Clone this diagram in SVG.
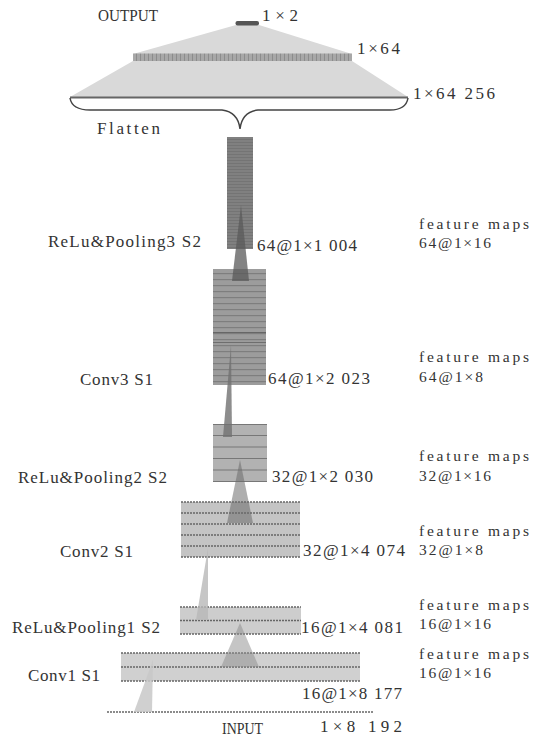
<svg xmlns="http://www.w3.org/2000/svg" width="543" height="739" viewBox="0 0 543 739">
<defs>
<style>
text{font-family:"Liberation Serif","DejaVu Serif",serif;font-size:17px;fill:#333;}
.fm{font-size:15.5px;}
.dash{stroke:#666;stroke-width:1.5;stroke-dasharray:2 1;}
.solid{stroke:#777;stroke-width:1.2;}
.wedge{stroke:none;}
</style>
<pattern id="p3" x="0" y="137" width="26" height="3" patternUnits="userSpaceOnUse">
<rect width="26" height="3" fill="#808080"/><rect y="2" width="26" height="1" fill="#747474"/>
</pattern>
<pattern id="c3" x="0" y="269" width="53" height="6" patternUnits="userSpaceOnUse">
<rect width="53" height="6" fill="#9c9c9c"/><rect y="4" width="53" height="1.2" fill="#7e7e7e"/>
</pattern>
<pattern id="fc" x="133" y="0" width="4" height="8" patternUnits="userSpaceOnUse">
<rect width="4" height="8" fill="#a8a8a8"/><rect x="3" width="1" height="8" fill="#8c8c8c"/>
</pattern>
</defs>
<rect width="543" height="739" fill="#fff"/>

<g id="output-layer">
<polygon points="236,25 259,25 352,54 133,54" fill="#d9d9d9"/>
<rect x="235.5" y="21" width="23.5" height="4.5" rx="2" fill="#555"/>
<text x="98" y="21" font-size="15" textLength="60" lengthAdjust="spacingAndGlyphs">OUTPUT</text>
<text x="262" y="21" textLength="36">1×2</text>
</g>

<g id="fc-layer">
<polygon points="133,61 352,61 408,97 70,97" fill="#d9d9d9"/>
<rect x="133" y="53.5" width="219" height="7.5" fill="url(#fc)"/>
<text x="357" y="54" textLength="43">1×64</text>
</g>

<g id="flatten-layer">
<line x1="70" y1="97.5" x2="408" y2="97.5" stroke="#666" stroke-width="2"/>
<path d="M70,98 Q72,110 90,110 L222,110 Q238,112 240,129 Q242,112 258,110 L390,110 Q406,110 408,98" fill="none" stroke="#444" stroke-width="1.5"/>
<text x="413" y="99" textLength="82">1×64 256</text>
<text x="97" y="134" textLength="63">Flatten</text>
</g>

<g id="pool3">
<rect x="227" y="137" width="26" height="112" fill="url(#p3)"/>
<text x="48" y="247" textLength="153">ReLu&amp;Pooling3 S2</text>
<text x="257" y="251" textLength="100">64@1×1 004</text>
<text class="fm" x="419" y="229" textLength="110">feature maps</text>
<text class="fm" x="419" y="248" textLength="72">64@1×16</text>
</g>

<g id="conv3">
<rect x="213" y="269" width="53" height="116" fill="url(#c3)"/>
<line x1="213" y1="332.5" x2="266" y2="332.5" stroke="#666" stroke-width="1"/>
<line x1="213" y1="342.5" x2="266" y2="342.5" stroke="#6e6e6e" stroke-width="1"/>
<text x="80" y="385" textLength="73">Conv3 S1</text>
<text x="268" y="384" textLength="102">64@1×2 023</text>
<text class="fm" x="419" y="362" textLength="110">feature maps</text>
<text class="fm" x="419" y="382" textLength="64">64@1×8</text>
</g>

<g id="pool2">
<rect x="213" y="424" width="54" height="58" fill="#b2b2b2"/>
<g class="solid">
<line x1="213" y1="424.5" x2="267" y2="424.5"/>
<line x1="213" y1="435.5" x2="267" y2="435.5"/>
<line x1="213" y1="447" x2="267" y2="447"/>
<line x1="213" y1="458.5" x2="267" y2="458.5"/>
<line x1="213" y1="470" x2="267" y2="470"/>
<line x1="213" y1="481.5" x2="267" y2="481.5"/>
</g>
<text x="18" y="483" textLength="149">ReLu&amp;Pooling2 S2</text>
<text x="272" y="482" textLength="101">32@1×2 030</text>
<text class="fm" x="419" y="461" textLength="110">feature maps</text>
<text class="fm" x="419" y="481" textLength="72">32@1×16</text>
</g>

<g id="conv2">
<rect x="181" y="502" width="119" height="55" fill="#c4c4c4"/>
<g class="dash">
<line x1="181" y1="502" x2="300" y2="502"/>
<line x1="181" y1="513" x2="300" y2="513"/>
<line x1="181" y1="524" x2="300" y2="524"/>
<line x1="181" y1="535" x2="300" y2="535"/>
<line x1="181" y1="546" x2="300" y2="546"/>
<line x1="181" y1="557" x2="300" y2="557"/>
</g>
<text x="60" y="557" textLength="73">Conv2 S1</text>
<text x="303" y="556" textLength="102">32@1×4 074</text>
<text class="fm" x="419" y="536" textLength="110">feature maps</text>
<text class="fm" x="419" y="555" textLength="64">32@1×8</text>
</g>

<g id="pool1">
<rect x="180" y="607" width="121" height="27" fill="#cdcdcd"/>
<g class="dash">
<line x1="180" y1="607" x2="301" y2="607"/>
<line x1="180" y1="620.5" x2="301" y2="620.5"/>
<line x1="180" y1="634" x2="301" y2="634"/>
</g>
<text x="12" y="633" textLength="148">ReLu&amp;Pooling1 S2</text>
<text x="301" y="633" textLength="102">16@1×4 081</text>
<text class="fm" x="419" y="610" textLength="110">feature maps</text>
<text class="fm" x="419" y="629" textLength="72">16@1×16</text>
</g>

<g id="conv1">
<rect x="121" y="653" width="239" height="28" fill="#d0d0d0"/>
<g class="dash">
<line x1="121" y1="653" x2="360" y2="653"/>
<line x1="121" y1="667" x2="360" y2="667"/>
<line x1="121" y1="681" x2="360" y2="681"/>
</g>
<text x="28" y="681" textLength="72">Conv1 S1</text>
<text x="302" y="699" textLength="100">16@1×8 177</text>
<text class="fm" x="419" y="659" textLength="110">feature maps</text>
<text class="fm" x="419" y="678" textLength="72">16@1×16</text>
</g>

<g id="input">
<line class="dash" x1="107" y1="712" x2="373" y2="712"/>
<text x="222" y="734" font-size="15" textLength="41" lengthAdjust="spacingAndGlyphs">INPUT</text>
<text x="320" y="732" textLength="82">1×8 192</text>
</g>

<g id="connectors">
<polygon class="wedge" points="241,205 249,281 232,281" fill="#5a5a5a" fill-opacity="0.75"/>
<polygon class="wedge" points="231,345 232,437 223,437" fill="#707070" fill-opacity="0.8"/>
<polygon class="wedge" points="240,460 253,523 227,523" fill="#6c6c6c" fill-opacity="0.55"/>
<polygon class="wedge" points="208,548 208,620 196,620" fill="#b8b8b8" fill-opacity="0.8"/>
<polygon class="wedge" points="240,623 259,667 221,667" fill="#8c8c8c" fill-opacity="0.5"/>
<polygon class="wedge" points="153,660 152,712 134,712" fill="#c8c8c8" fill-opacity="0.85"/>
</g>
</svg>
